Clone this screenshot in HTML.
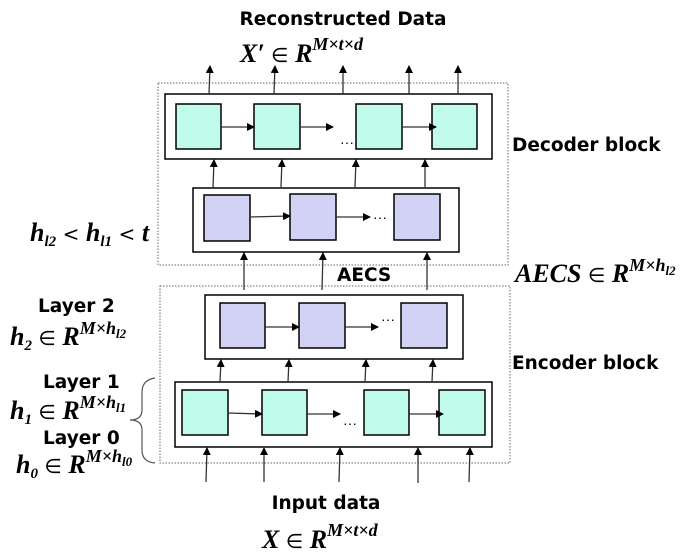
<!DOCTYPE html>
<html><head><meta charset="utf-8"><style>
html,body{margin:0;padding:0;background:#fff;}
svg{display:block;}
.b{font-family:"DejaVu Sans","Liberation Sans",sans-serif;font-weight:bold;font-size:18.5px;fill:#000;}
.m{font-family:"Liberation Serif",serif;font-style:italic;font-weight:bold;font-size:26px;fill:#000;}
.s{font-size:18px;}
.e{font-weight:normal;font-style:normal;font-family:"DejaVu Sans",sans-serif;font-size:20px;}
</style></head><body>
<svg width="697" height="556" viewBox="0 0 697 556" xmlns="http://www.w3.org/2000/svg">
<defs><marker id="a" markerWidth="8" markerHeight="8" refX="7" refY="4" orient="auto" markerUnits="userSpaceOnUse"><path d="M0,0 L8,4 L0,8 z" fill="#000"/></marker></defs>
<g fill="none" stroke="#666" stroke-width="1" stroke-dasharray="1.5,1.5">
<rect x="158" y="83" width="350" height="182"/>
<rect x="160" y="286" width="350" height="177"/>
</g>
<g stroke="#000" stroke-width="1.5">
<rect x="165" y="94" width="327" height="65" fill="#fff"/>
<rect x="193" y="188" width="266" height="64" fill="#fff"/>
<rect x="205" y="295" width="258" height="64" fill="#fff"/>
<rect x="175" y="382" width="317" height="65" fill="#fff"/>
<g fill="#c0fbec">
<rect x="176" y="104" width="45" height="45"/><rect x="254" y="104" width="46" height="45"/><rect x="356" y="104" width="46" height="45"/><rect x="432" y="104" width="45" height="45"/>
<rect x="182" y="390" width="46" height="45"/><rect x="262" y="390" width="45" height="45"/><rect x="364" y="390" width="45" height="45"/><rect x="439" y="390" width="46" height="45"/>
</g>
<g fill="#d2d2f4">
<rect x="204" y="195" width="46" height="46"/><rect x="290" y="194" width="46" height="46"/><rect x="394" y="194" width="46" height="46"/>
<rect x="220" y="303" width="45" height="45"/><rect x="299" y="303" width="46" height="45"/><rect x="401" y="303" width="46" height="45"/>
</g>
</g>
<g stroke="#333" stroke-width="1.3" marker-end="url(#a)">
<line x1="221" y1="127" x2="254" y2="127"/><line x1="300" y1="127" x2="333" y2="127"/><line x1="402" y1="127" x2="436" y2="127"/>
<line x1="250" y1="217" x2="290" y2="216"/><line x1="336" y1="217" x2="370" y2="217"/>
<line x1="265" y1="327" x2="299" y2="327"/><line x1="345" y1="327" x2="378" y2="327"/>
<line x1="228" y1="413" x2="262" y2="414"/><line x1="307" y1="414" x2="340" y2="414"/><line x1="409" y1="414" x2="443" y2="414"/>
<line x1="209" y1="94" x2="210" y2="66"/><line x1="274" y1="94" x2="275" y2="66"/><line x1="343" y1="94" x2="343" y2="66"/><line x1="409" y1="94" x2="409" y2="66"/><line x1="458" y1="94" x2="458" y2="66"/>
<line x1="213" y1="188" x2="214" y2="160"/><line x1="281" y1="187" x2="282" y2="160"/><line x1="355" y1="187" x2="356" y2="160"/><line x1="425" y1="187" x2="425" y2="160"/>
<line x1="244" y1="290" x2="244" y2="253"/><line x1="322" y1="290" x2="323" y2="253"/><line x1="427" y1="290" x2="427" y2="253"/>
<line x1="220" y1="382" x2="221" y2="360"/><line x1="288" y1="382" x2="289" y2="360"/><line x1="365" y1="382" x2="366" y2="360"/><line x1="432" y1="382" x2="433" y2="360"/>
<line x1="206" y1="482" x2="207" y2="448"/><line x1="264" y1="482" x2="264" y2="448"/><line x1="339" y1="482" x2="340" y2="448"/><line x1="418" y1="483" x2="418" y2="448"/><line x1="469" y1="482" x2="470" y2="448"/>
</g>
<g font-family="Liberation Sans" font-size="14">
<text x="340" y="147">···</text><text x="373" y="222">···</text><text x="381" y="324">···</text><text x="343" y="428">···</text>
</g>
<path d="M155,378 Q142,380 142,392 L142,410 Q142,420 130,420 Q142,420 142,430 L142,450 Q142,462 155,463" fill="none" stroke="#555" stroke-width="1.2"/>
<text class="b" x="343" y="25" text-anchor="middle">Reconstructed Data</text>
<text class="m" x="240" y="62">X′ <tspan class="e">∈</tspan> R<tspan class="s" dy="-12">M×t×d</tspan></text>
<text class="b" x="512" y="151">Decoder block</text>
<text class="m" x="30" y="241">h<tspan font-size="15" dy="5">l2</tspan><tspan dy="-5"> <tspan class="e">&lt;</tspan> h</tspan><tspan font-size="15" dy="5">l1</tspan><tspan dy="-5"> <tspan class="e">&lt;</tspan> t</tspan></text>
<text class="b" x="337" y="281">AECS</text>
<text class="m" x="515" y="282">AECS <tspan class="e">∈</tspan> R<tspan class="s" dy="-11">M×h</tspan><tspan font-size="13" dy="4">l2</tspan></text>
<text class="b" x="38" y="312">Layer 2</text>
<text class="m" x="10" y="345">h<tspan font-size="15" dy="5">2</tspan><tspan dy="-5"> <tspan class="e">∈</tspan> R</tspan><tspan class="s" dy="-11">M×h</tspan><tspan font-size="13" dy="4">l2</tspan></text>
<text class="b" x="512" y="369">Encoder block</text>
<text class="b" x="43" y="388">Layer 1</text>
<text class="m" x="10" y="419">h<tspan font-size="15" dy="5">1</tspan><tspan dy="-5"> <tspan class="e">∈</tspan> R</tspan><tspan class="s" dy="-11">M×h</tspan><tspan font-size="13" dy="4">l1</tspan></text>
<text class="b" x="43" y="444">Layer 0</text>
<text class="m" x="16" y="473">h<tspan font-size="15" dy="5">0</tspan><tspan dy="-5"> <tspan class="e">∈</tspan> R</tspan><tspan class="s" dy="-11">M×h</tspan><tspan font-size="13" dy="4">l0</tspan></text>
<text class="b" x="326" y="509" text-anchor="middle">Input data</text>
<text class="m" x="262" y="548">X <tspan class="e">∈</tspan> R<tspan class="s" dy="-12">M×t×d</tspan></text>
</svg>
</body></html>
